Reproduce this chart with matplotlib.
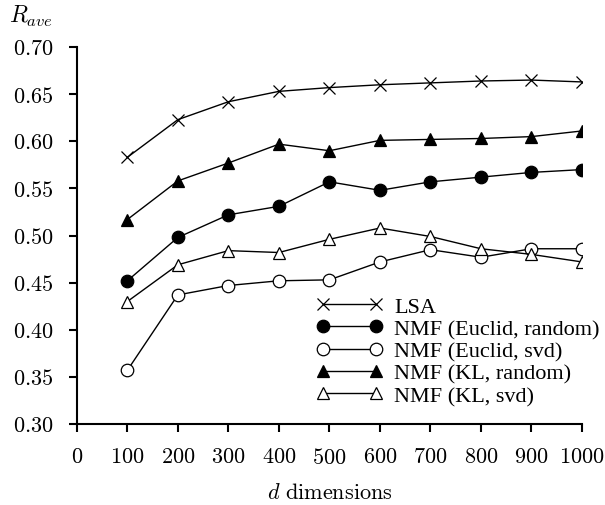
import numpy as np
import matplotlib
matplotlib.use("Agg")
from matplotlib import pyplot as plt
from matplotlib.ticker import FuncFormatter

plt.rcParams['mathtext.fontset'] = 'cm'
plt.rcParams['font.family'] = 'Liberation Serif'

dims = [100, 200, 300, 400, 500, 600, 700, 800, 900, 1000]
lsa = [0.583, 0.623, 0.642, 0.653, 0.657, 0.660, 0.662, 0.664, 0.665, 0.663]
euclid_random = [0.452, 0.498, 0.522, 0.531, 0.557, 0.548, 0.557, 0.562, 0.567, 0.570]
euclid_svd = [0.357, 0.437, 0.447, 0.452, 0.453, 0.472, 0.485, 0.477, 0.486, 0.486]
kl_random = [0.517, 0.558, 0.577, 0.597, 0.590, 0.601, 0.602, 0.603, 0.605, 0.611]
kl_svd = [0.430, 0.469, 0.484, 0.482, 0.496, 0.508, 0.499, 0.486, 0.480, 0.472]

fig = plt.figure(figsize=(6.05, 5.06), dpi=100)
ax = fig.add_axes([0.127, 0.160, 0.835, 0.745])

kw = dict(color="black", lw=1.0, markersize=9, markeredgewidth=0.9)
ax.plot(dims, lsa, marker="x", label="LSA", **kw)
ax.plot(dims, euclid_random, marker="o", markerfacecolor="black",
        label="NMF (Euclid, random)", **kw)
ax.plot(dims, euclid_svd, marker="o", markerfacecolor="white",
        label="NMF (Euclid, svd)", **kw)
ax.plot(dims, kl_random, marker="^", markerfacecolor="black",
        label="NMF (KL, random)", **kw)
ax.plot(dims, kl_svd, marker="^", markerfacecolor="white",
        label="NMF (KL, svd)", **kw)

ax.set_xlim(0, 1000)
ax.set_ylim(0.30, 0.70)
ax.set_xticks(np.arange(0, 1001, 100))
ax.set_yticks(np.arange(0.30, 0.701, 0.05))
ax.xaxis.set_major_formatter(FuncFormatter(lambda v, p: r"$%d$" % v))
ax.yaxis.set_major_formatter(FuncFormatter(lambda v, p: r"$%.2f$" % v))

for s in ["top", "right"]:
    ax.spines[s].set_visible(False)
for s in ["left", "bottom"]:
    ax.spines[s].set_linewidth(1.5)
ax.tick_params(direction="out", length=6, width=1.5, labelsize=16, pad=11)

ax.set_xlabel(r"$d\ \mathrm{dimensions}$", fontsize=16, labelpad=11)
fig.text(0.015, 0.955, r"$R_{ave}$", fontsize=17)

ax.legend(loc="lower right", bbox_to_anchor=(1.07, 0.0), frameon=False,
          fontsize=16, numpoints=2, handlelength=3.0, labelspacing=0.08,
          handletextpad=0.5, borderaxespad=0.4)

fig.savefig("out.png", dpi=100)
